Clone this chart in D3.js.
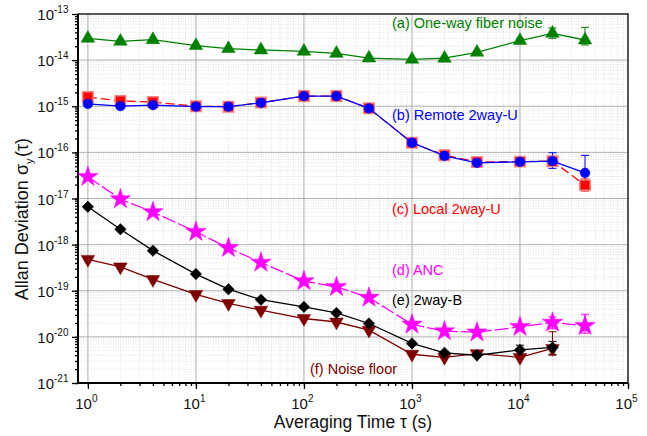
<!DOCTYPE html>
<html>
<head>
<meta charset="utf-8">
<script src="https://cdn.jsdelivr.net/npm/d3@7"></script>
<style>
  body { margin: 0; background: #fff; overflow: hidden; }
  svg { display: block; }
  text { font-family: Arial, "Liberation Sans", sans-serif; }
</style>
</head>
<body>
<svg width="647" height="436" id="mainsvg"></svg>
<script>
// averaging times (s)
const TAU = [1, 2, 4, 10, 20, 40, 100, 200, 400, 1000, 2000, 4000, 10000, 20000, 40000];

// (a) one-way fiber noise
const oneWay = [2.97e-14, 2.56e-14, 2.77e-14, 2.06e-14, 1.77e-14, 1.66e-14, 1.55e-14, 1.4e-14,
  1.11e-14, 1.04e-14, 1.1e-14, 1.48e-14, 2.64e-14, 3.81e-14, 2.73e-14];
// (b) remote 2way-U
const remote2U = [1.13e-15, 1.01e-15, 1.06e-15, 0.98e-15, 0.98e-15, 1.19e-15, 1.66e-15, 1.66e-15,
  0.9e-15, 1.62e-16, 8.4e-17, 5.95e-17, 6.25e-17, 6.45e-17, 3.6e-17];
// (c) local 2way-U
const local2U = [1.58e-15, 1.3e-15, 1.23e-15, 1.0e-15, 0.98e-15, 1.2e-15, 1.66e-15, 1.66e-15,
  0.9e-15, 1.62e-16, 8.7e-17, 6.2e-17, 6.3e-17, 6.45e-17, 1.95e-17];
// (d) ANC
const anc = [2.96e-17, 0.97e-17, 5.1e-18, 1.9e-18, 8.5e-19, 4.1e-19, 1.62e-19, 1.22e-19,
  7.1e-20, 1.86e-20, 1.33e-20, 1.26e-20, 1.65e-20, 2.05e-20, 1.74e-20];
// (e) 2way-B (no 40000 s point)
const twoWayB = [6.6e-18, 2.15e-18, 7.4e-19, 2.3e-19, 1.08e-19, 6.4e-20, 4.47e-20, 3.3e-20,
  1.95e-20, 7.2e-21, 4.5e-21, 4.0e-21, 5.2e-21, 5.9e-21];
// (f) noise floor
const noiseFloor = [4.8e-19, 3.3e-19, 1.76e-19, 8.3e-20, 5.3e-20, 3.8e-20, 2.5e-20, 2.1e-20,
  1.4e-20, 4.2e-21, 3.6e-21, 4.35e-21, 3.6e-21, 5.6e-21];

// error bars: [series index (a..f), point index, low, high]
const errBars = [
  [0, 12, 2.4e-14, 2.9e-14], [0, 13, 2.97e-14, 4.97e-14], [0, 14, 2.13e-14, 5.14e-14],
  [1, 13, 4.5e-17, 9.8e-17], [1, 14, 2.0e-17, 8.6e-17],
  [2, 14, 1.45e-17, 2.64e-17],
  [3, 12, 1.5e-20, 1.8e-20], [3, 13, 1.5e-20, 2.72e-20], [3, 14, 1.2e-20, 3.1e-20],
  [4, 12, 4.0e-21, 6.6e-21], [4, 13, 4.2e-21, 8.0e-21],
  [5, 13, 4.0e-21, 1.29e-20]
];

const LABELS = ['(a) One-way fiber noise', '(b) Remote 2way-U', '(c) Local 2way-U',
  '(d) ANC', '(e) 2way-B', '(f) Noise floor'];
const X_TICKS = [1, 10, 100, 1000, 10000, 100000];
const Y_TICKS = [1e-21, 1e-20, 1e-19, 1e-18, 1e-17, 1e-16, 1e-15, 1e-14, 1e-13];

const series = [
  {values: oneWay, color: '#008000', symbol: d3.symbolTriangle, size: 80, dash: null, rot: 0},
  {values: local2U, color: '#ff0000', symbol: d3.symbolSquare, size: 110, dash: '9,4', rot: 0},
  {values: remote2U, color: '#0000ff', symbol: d3.symbolCircle, size: 75, dash: null, rot: 0},
  {values: anc, color: '#ff00ff', symbol: d3.symbolStar, size: 130, dash: '14,3', rot: 0},
  {values: noiseFloor, color: '#800000', symbol: d3.symbolTriangle, size: 80, dash: null, rot: 180},
  {values: twoWayB, color: '#000000', symbol: d3.symbolSquare, size: 66, dash: null, rot: 45}
];
const errColor = ['#008000', '#0000ff', '#ff0000', '#ff00ff', '#000000', '#800000'];

const svg = d3.select('svg');
const margin = {top: 14, bottom: 53, left: 78, right: 19};
const width = +svg.attr('width');
const height = +svg.attr('height');
const innerWidth = width - margin.left - margin.right;
const innerHeight = height - margin.top - margin.bottom;
const g = svg.append('g').attr('transform', `translate(${margin.left}, ${margin.top})`);

const xScale = d3.scaleLog().domain([0.81, 1e5]).range([0, innerWidth]);
const yScale = d3.scaleLog().domain([1e-21, 1e-13]).range([innerHeight, 0]);

// minor ticks / grid
const xMinor = [];
for (let e = 0; e < 5; e++) for (let m = 1; m < 10; m++) xMinor.push(m * Math.pow(10, e));
xMinor.push(100000);
const yMinor = [];
for (let e = -21; e < -13; e++) for (let m = 1; m < 10; m++) yMinor.push(+(m + 'e' + e));

g.append('g').selectAll('line').data(xMinor).join('line')
  .attr('x1', d => xScale(d)).attr('x2', d => xScale(d)).attr('y1', 0).attr('y2', innerHeight)
  .attr('stroke', '#e0e0e0').attr('stroke-dasharray', '1,1.5');
g.append('g').selectAll('line').data(yMinor).join('line')
  .attr('y1', d => yScale(d)).attr('y2', d => yScale(d)).attr('x1', 0).attr('x2', innerWidth)
  .attr('stroke', '#e0e0e0').attr('stroke-dasharray', '1,1.5');
g.append('g').selectAll('line').data(X_TICKS).join('line')
  .attr('x1', d => xScale(d)).attr('x2', d => xScale(d)).attr('y1', 0).attr('y2', innerHeight)
  .attr('stroke', '#b4b4b4');
g.append('g').selectAll('line').data(Y_TICKS).join('line')
  .attr('y1', d => yScale(d)).attr('y2', d => yScale(d)).attr('x1', 0).attr('x2', innerWidth)
  .attr('stroke', '#b4b4b4');

// axes: ticks from d3, labels drawn as plain text below
const axes = [
  g.append('g').attr('transform', `translate(0, ${innerHeight})`)
    .call(d3.axisBottom(xScale).tickValues(xMinor).tickSize(3)),
  g.append('g').attr('transform', `translate(0, ${innerHeight})`)
    .call(d3.axisBottom(xScale).tickValues(X_TICKS).tickSize(6)),
  g.append('g').call(d3.axisLeft(yScale).tickValues(yMinor).tickSize(3)),
  g.append('g').call(d3.axisLeft(yScale).tickValues(Y_TICKS).tickSize(6))
];
axes.forEach(a => {
  a.selectAll('.domain').remove();
  a.selectAll('.tick text').remove();
  a.selectAll('.tick line').attr('stroke', '#000').attr('stroke-width', 1.3);
});

const xLab = g.append('g').selectAll('g').data(X_TICKS).join('g')
  .attr('transform', d => `translate(${xScale(d)}, ${innerHeight + 26})`);
xLab.append('text').attr('text-anchor', 'end').attr('x', 4).attr('font-size', '15px')
  .attr('fill', '#111').text('10');
xLab.append('text').attr('x', 4).attr('y', -7).attr('font-size', '10px')
  .attr('fill', '#111').text(d => Math.round(Math.log10(d)));

const yLab = g.append('g').selectAll('g').data(Y_TICKS).join('g')
  .attr('transform', d => `translate(-6, ${yScale(d) + 6})`);
yLab.append('text').attr('text-anchor', 'end').attr('x', -18).attr('font-size', '15px')
  .attr('fill', '#111').text('10');
yLab.append('text').attr('text-anchor', 'start').attr('x', -18).attr('y', -7).attr('font-size', '10px')
  .attr('fill', '#111').text(d => Math.round(Math.log10(d)));

// frame
g.append('rect').attr('width', innerWidth).attr('height', innerHeight)
  .attr('fill', 'none').attr('stroke', '#000').attr('stroke-width', 1.2);
g.append('line').attr('x1', 0).attr('x2', 0).attr('y1', 0).attr('y2', innerHeight)
  .attr('stroke', '#000').attr('stroke-width', 2);
g.append('line').attr('x1', 0).attr('x2', innerWidth).attr('y1', innerHeight).attr('y2', innerHeight)
  .attr('stroke', '#000').attr('stroke-width', 2);

// error bars
const eb = g.append('g');
errBars.forEach(([s, i, lo, hi]) => {
  const x = xScale(TAU[i]);
  const c = errColor[s];
  eb.append('line').attr('x1', x).attr('x2', x).attr('y1', yScale(lo)).attr('y2', yScale(hi))
    .attr('stroke', c);
  [lo, hi].forEach(v => eb.append('line').attr('x1', x - 4).attr('x2', x + 4)
    .attr('y1', yScale(v)).attr('y2', yScale(v)).attr('stroke', c));
});

// lines + markers
const line = d3.line().x((d, i) => xScale(TAU[i])).y(d => yScale(d));
series.forEach(s => {
  g.append('path').datum(s.values).attr('d', line)
    .attr('fill', 'none').attr('stroke', s.color).attr('stroke-width', 1.3)
    .attr('stroke-dasharray', s.dash);
  const isSq = s.symbol === d3.symbolSquare && s.rot === 0;
  g.append('g').selectAll('path').data(s.values).join('path')
    .attr('d', d3.symbol().type(s.symbol).size(s.size))
    .attr('transform', (d, i) => `translate(${xScale(TAU[i])}, ${yScale(d)}) rotate(${s.rot})`)
    .attr('fill', s.color)
    .attr('stroke', isSq ? '#ff8080' : s.color)
    .attr('stroke-width', isSq ? 1.5 : 0.5);
});

// series labels
const labelPos = [[392, 28, '#008000'], [392, 120, '#0000ff'], [392, 214, '#ff0000'],
  [392, 275, '#ff00ff'], [392, 305, '#000000'], [310, 374, '#800000']];
svg.append('g').selectAll('text').data(LABELS).join('text')
  .attr('x', (d, i) => labelPos[i][0]).attr('y', (d, i) => labelPos[i][1])
  .attr('fill', (d, i) => labelPos[i][2]).attr('font-size', '14.5px').text(d => d);

// axis titles
svg.append('text').attr('x', 353).attr('y', 428).attr('text-anchor', 'middle')
  .attr('font-size', '17.5px').attr('fill', '#111').text('Averaging Time τ (s)');
const yl = svg.append('g').attr('transform', 'translate(28, 204) rotate(-90)');
yl.append('text').attr('text-anchor', 'end').attr('x', 40).attr('font-size', '18px')
  .attr('fill', '#111').text('Allan Deviation σ');
yl.append('text').attr('x', 40).attr('y', 5).attr('font-size', '11px').attr('fill', '#111').text('y');
yl.append('text').attr('x', 47).attr('font-size', '18px').attr('fill', '#111').text('(τ)');
</script>
</body>
</html>
